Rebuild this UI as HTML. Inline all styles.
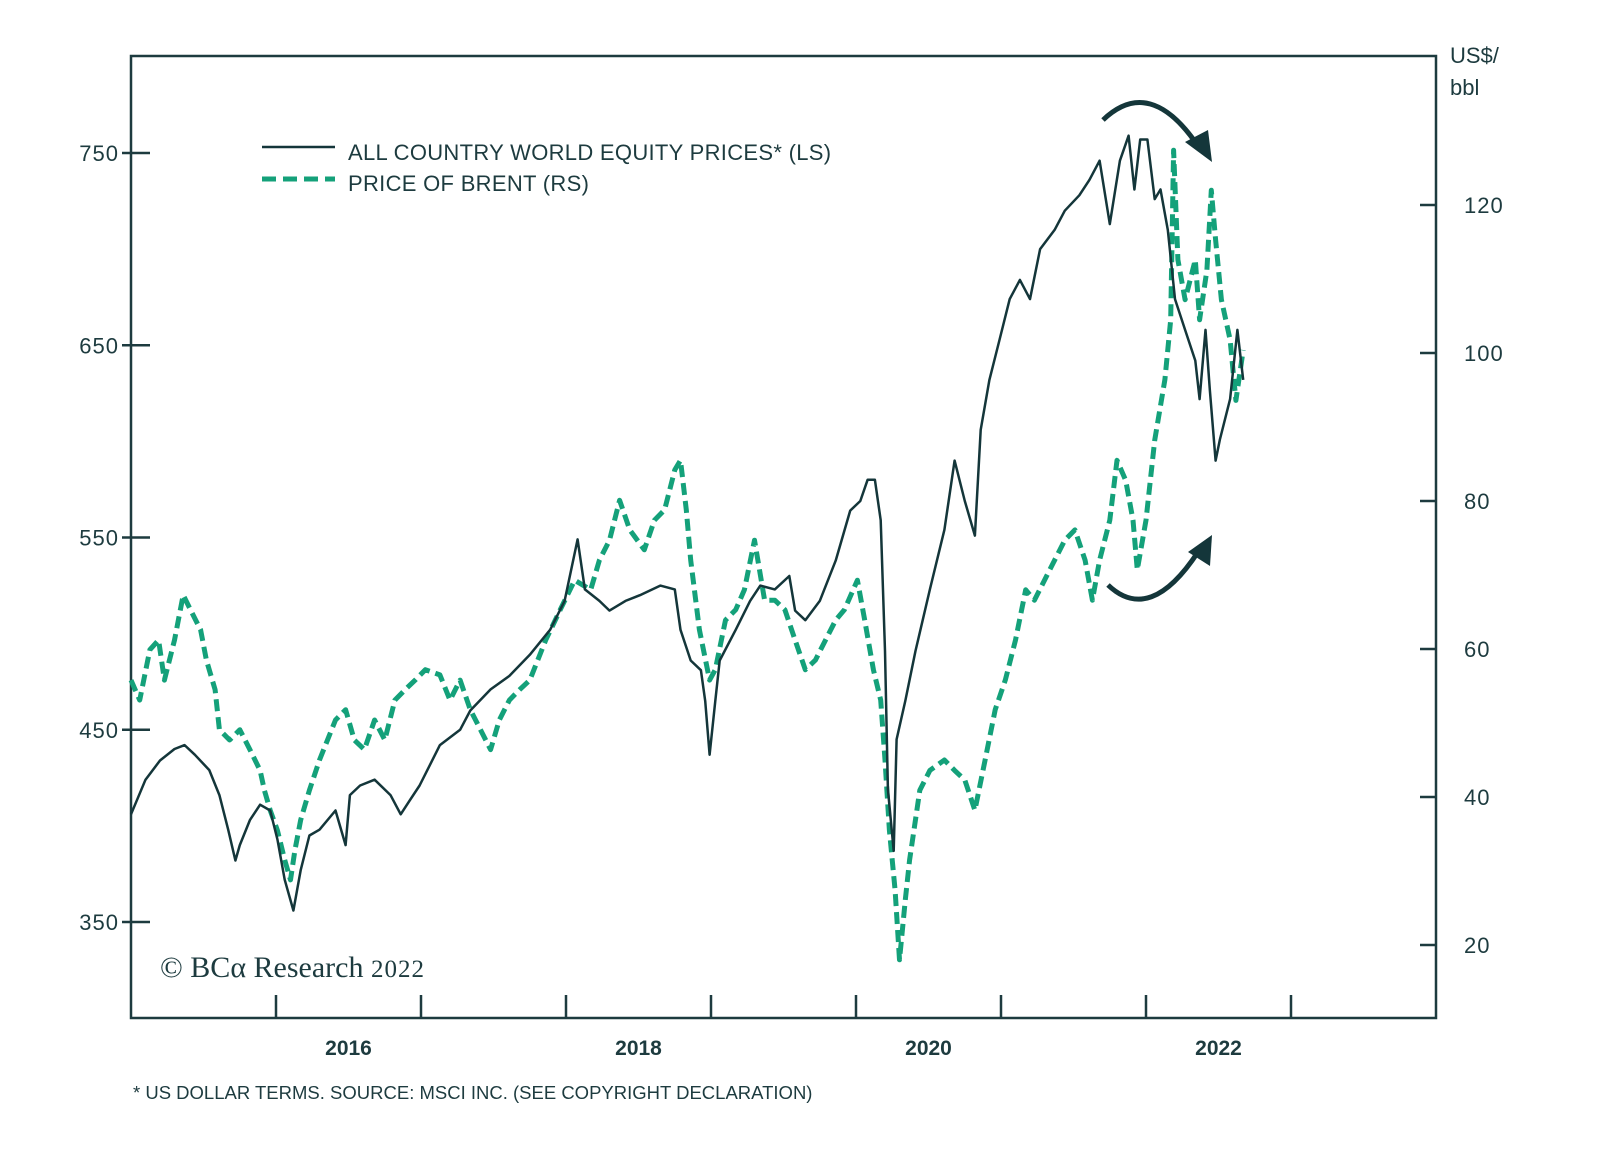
<!DOCTYPE html>
<html><head><meta charset="utf-8"><style>
body{margin:0;background:#fff;}
svg{display:block;font-family:"Liberation Sans",sans-serif;}
</style></head><body>
<svg id="chart" width="1600" height="1160" viewBox="0 0 1600 1160" xmlns="http://www.w3.org/2000/svg">
<rect x="131" y="56" width="1305" height="962" fill="none" stroke="#1d3b3f" stroke-width="2.5"/>
<g id="axes"></g>
<g id="series"></g>
<g>
<line x1="262" y1="147" x2="335" y2="147" stroke="#14363a" stroke-width="2.5"/>
<text x="348" y="160" font-size="22" fill="#1d3b3f" letter-spacing="0.3">ALL COUNTRY WORLD EQUITY PRICES* (LS)</text>
<line x1="262" y1="179" x2="335" y2="179" stroke="#14a17a" stroke-width="5" stroke-dasharray="14 7"/>
<text x="348" y="191" font-size="22" fill="#1d3b3f" letter-spacing="0.3">PRICE OF BRENT (RS)</text>
</g>
<g fill="none" stroke="#14363a" stroke-width="5">
<path d="M1103,120 Q1150,75 1198,146"/>
<polygon points="1185,142 1212,162 1208,130" fill="#14363a" stroke="none"/>
<path d="M1108,585 Q1150,625 1198,552"/>
<polygon points="1188,552 1212,535 1210,566" fill="#14363a" stroke="none"/>
</g>
<text x="1450" y="63" font-size="22" fill="#1d3b3f">US$/</text>
<text x="1450" y="95" font-size="22" fill="#1d3b3f">bbl</text>
<text x="160" y="977" font-size="30" fill="#1d3b3f" font-family="Liberation Serif, serif">© BCα Research <tspan font-size="25" letter-spacing="1">2022</tspan></text>
<text x="133" y="1099" font-size="18.5" fill="#1d3b3f">* US DOLLAR TERMS. SOURCE: MSCI INC. (SEE COPYRIGHT DECLARATION)</text>
</svg>
<script>
const leftTicks=[350,450,550,650,750];
const rightTicks=[20,40,60,80,100,120];
const yearTicks=[2016,2017,2018,2019,2020,2021,2022,2023];
const yearLabels=[2016,2018,2020,2022];
const equityDates=[2015.00,2015.10,2015.20,2015.30,2015.37,2015.44,2015.54,2015.61,2015.67,2015.72,2015.75,2015.82,2015.89,2015.96,2016.01,2016.06,2016.12,2016.17,2016.23,2016.30,2016.41,2016.48,2016.51,2016.58,2016.68,2016.79,2016.86,2016.92,2016.99,2017.13,2017.27,2017.34,2017.48,2017.61,2017.75,2017.89,2017.99,2018.08,2018.13,2018.23,2018.30,2018.41,2018.51,2018.65,2018.75,2018.79,2018.86,2018.93,2018.96,2018.99,2019.03,2019.06,2019.17,2019.27,2019.34,2019.44,2019.54,2019.58,2019.65,2019.75,2019.86,2019.96,2020.03,2020.08,2020.13,2020.17,2020.20,2020.22,2020.26,2020.28,2020.34,2020.41,2020.51,2020.61,2020.68,2020.75,2020.82,2020.86,2020.92,2020.99,2021.06,2021.13,2021.20,2021.27,2021.37,2021.44,2021.54,2021.61,2021.68,2021.75,2021.82,2021.88,2021.92,2021.96,2022.01,2022.06,2022.10,2022.15,2022.20,2022.27,2022.34,2022.37,2022.41,2022.44,2022.48,2022.51,2022.58,2022.63,2022.67];
const equityValues=[406,424,434,440,442,437,429,416,398,382,390,403,411,408,393,372,356,377,395,398,408,390,416,421,424,416,406,413,421,442,450,460,471,478,489,502,517,549,523,517,512,517,520,525,523,502,486,481,465,437,465,486,502,517,525,523,530,512,507,517,538,564,569,580,580,559,491,419,387,445,465,491,523,554,590,569,551,606,632,653,674,684,674,700,710,720,728,736,746,713,746,759,731,757,757,726,731,710,674,658,642,622,658,627,590,601,622,658,632];
const brentDates=[2015.00,2015.06,2015.13,2015.19,2015.23,2015.30,2015.36,2015.41,2015.48,2015.52,2015.58,2015.61,2015.68,2015.75,2015.82,2015.89,2015.92,2015.96,2016.01,2016.06,2016.10,2016.13,2016.17,2016.23,2016.30,2016.41,2016.48,2016.54,2016.61,2016.68,2016.75,2016.82,2016.89,2016.96,2017.03,2017.13,2017.20,2017.27,2017.34,2017.41,2017.48,2017.54,2017.61,2017.68,2017.75,2017.86,2017.96,2018.06,2018.17,2018.23,2018.30,2018.37,2018.44,2018.54,2018.61,2018.68,2018.75,2018.79,2018.83,2018.86,2018.92,2018.99,2019.03,2019.10,2019.17,2019.23,2019.30,2019.37,2019.44,2019.51,2019.58,2019.65,2019.72,2019.79,2019.86,2019.92,2020.01,2020.06,2020.12,2020.17,2020.20,2020.23,2020.27,2020.30,2020.34,2020.37,2020.44,2020.51,2020.61,2020.68,2020.75,2020.82,2020.89,2020.96,2021.03,2021.10,2021.17,2021.23,2021.30,2021.37,2021.44,2021.51,2021.58,2021.63,2021.68,2021.75,2021.80,2021.86,2021.91,2021.94,2022.00,2022.06,2022.13,2022.17,2022.19,2022.22,2022.27,2022.34,2022.37,2022.42,2022.45,2022.48,2022.52,2022.58,2022.62,2022.67];
const brentValues=[55.8,53.1,59.9,61.2,55.8,61.2,67.3,65.3,62.6,58.5,54.5,49.1,47.7,49.1,46.4,43.6,40.9,38.2,35.5,31.5,28.8,32.8,36.9,40.9,45.0,50.4,51.8,47.7,46.4,50.4,47.7,53.1,54.5,55.8,57.2,56.5,53.1,55.8,51.8,49.1,46.4,50.4,53.1,54.5,55.8,61.2,65.3,69.3,68.0,72.0,74.7,80.1,76.1,73.4,77.4,78.8,84.2,85.5,78.8,72.0,62.6,55.8,57.2,63.9,65.3,68.0,74.7,66.6,66.6,65.3,61.2,57.2,58.5,61.2,63.9,65.3,69.3,63.9,57.2,53.1,45.0,35.5,27.4,18.0,26.1,31.5,40.9,43.6,45.0,43.6,42.3,38.2,45.0,51.8,55.8,61.2,68.0,66.6,69.3,72.0,74.7,76.1,72.0,66.6,72.0,77.4,85.5,82.8,77.4,70.7,77.4,88.2,96.4,104.5,127.4,112.6,107.2,112.6,104.5,111.2,122.0,115.3,107.2,101.8,93.6,100.4];

const X0=131,YEAR_W=145;
function xs(d){return X0+(d-2015)*YEAR_W;}
function yl(v){return 153+(750-v)*1.9225;}
function yr(v){return 205+(120-v)*7.4;}
const NS='http://www.w3.org/2000/svg';
const axes=document.getElementById('axes');
const series=document.getElementById('series');
function mk(tag,attrs,parent){const e=document.createElementNS(NS,tag);for(const k in attrs)e.setAttribute(k,attrs[k]);parent.appendChild(e);return e;}
const AX='#1d3b3f';
leftTicks.forEach(v=>{
  const t=mk('line',{x1:122,x2:150,y1:yl(v),y2:yl(v),stroke:AX,'stroke-width':2.5},axes);
  
  
  const l=mk('text',{x:119,y:yl(v)+8,'font-size':22,fill:AX,'text-anchor':'end','letter-spacing':1},axes);
  l.textContent=v;
  
  
});
rightTicks.forEach(v=>{
  const t=mk('line',{x1:1420,x2:1436,y1:yr(v),y2:yr(v),stroke:AX,'stroke-width':2.5},axes);
  
  
  const l=mk('text',{x:1464,y:yr(v)+8,'font-size':22,fill:AX,'letter-spacing':1},axes);
  l.textContent=v;
  
  
});
yearTicks.forEach(y=>{
  const t=mk('line',{x1:xs(y),x2:xs(y),y1:995,y2:1018,stroke:AX,'stroke-width':2.5},axes);
  
  
});
yearLabels.forEach(y=>{
  const l=mk('text',{x:xs(y+0.5),y:1055,'font-size':21,fill:AX,'text-anchor':'middle','font-weight':'bold'},axes);
  l.textContent=y;
  
  
});
function pathFrom(dates,vals,yf){
  const n=Math.min(dates.length,vals.length);let d='';
  for(let i=0;i<n;i++)d+=(i?'L':'M')+xs(dates[i]).toFixed(1)+','+yf(vals[i]).toFixed(1);
  return d;
}
const bp=mk('path',{d:pathFrom(brentDates,brentValues,yr),fill:'none',stroke:'#14a17a','stroke-width':5,'stroke-dasharray':'12 6','stroke-linejoin':'round'},series);


const ep=mk('path',{d:pathFrom(equityDates,equityValues,yl),fill:'none',stroke:'#14363a','stroke-width':2.5,'stroke-linejoin':'round'},series);


</script>
</body></html>
